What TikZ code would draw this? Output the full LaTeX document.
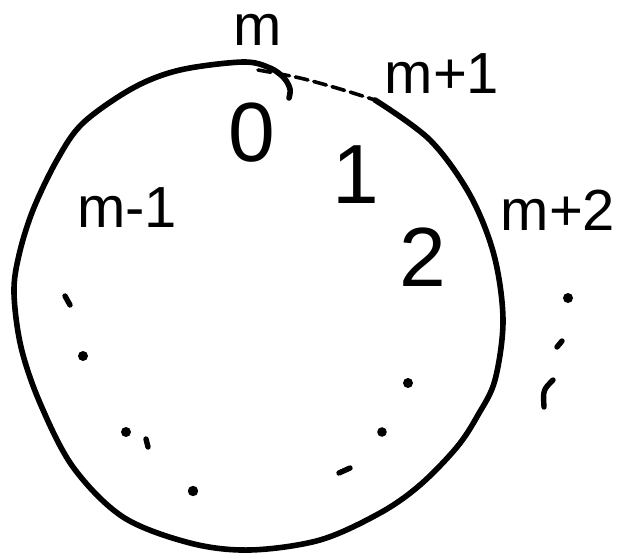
\documentclass[tikz,border=0pt]{standalone}
\usepackage{fontspec}
\setmainfont{Liberation Sans}
\begin{document}
\begin{tikzpicture}[x=1pt,y=-1pt,
  ring/.style={line width=5.6pt,line cap=round,line join=round},
  lbl/.style={font=\fontsize{58}{58}\selectfont,inner sep=0pt},
  num/.style={font=\fontsize{84}{84}\selectfont,inner sep=0pt},
  dotmark/.style={fill=black,draw=none},
  tick/.style={line width=5.4pt,line cap=round}]
\useasboundingbox (0,0) rectangle (627,559);
% main hand-drawn circle
\draw[ring] plot[smooth,tension=0.55] coordinates {
 (375,100) (430,140) (470,195) (494,255) (503,320) (495,380) (478,415)
 (457,447) (420,485) (380,513) (320,540) (250,550) (190,543) (123,517)
 (73,467) (40,403) (21,347) (14,293) (19,255) (33,210) (57,160)
 (83,123) (133,88) (180,70) (243,62)
 (270,68) (284,78) (290,89) (289,98)};
% faint dashed closing stroke
\draw[line width=3.6pt,dash pattern=on 13pt off 6pt,line cap=round]
  plot[smooth] coordinates {(258,70) (300,78) (340,89) (375,100)};
% labels
\node[lbl] (m)   at (258,30)  {m};
\node[lbl] (mp1) at (442,74)  {m+1};
\node[lbl] (mm1) at (127,208) {m-1};
\node[lbl] (mp2) at (558,210) {m+2};
\node[num] (n0)  at (252,133) {0};
\node[num] (n1)  at (356,175) {1};
\node[num] (n2)  at (423,257) {2};
% scattered dots inside
\draw[tick] (65,296) -- (70,305);
\fill[dotmark] (83,356) circle (5pt);
\fill[dotmark] (126,432) circle (5pt);
\draw[tick] (146,439) -- (148,447);
\fill[dotmark] (193,491) circle (5.2pt);
\draw[tick] (339,473) -- (350,468);
\fill[dotmark] (382,432) circle (4.8pt);
\fill[dotmark] (408,383) circle (5pt);
% dots outside on the right
\fill[dotmark] (568,298) circle (5pt);
\draw[tick] (557,347) -- (562,341);
\draw[tick] (553,380) .. controls (543,390) .. (544,407);
\end{tikzpicture}
\end{document}
